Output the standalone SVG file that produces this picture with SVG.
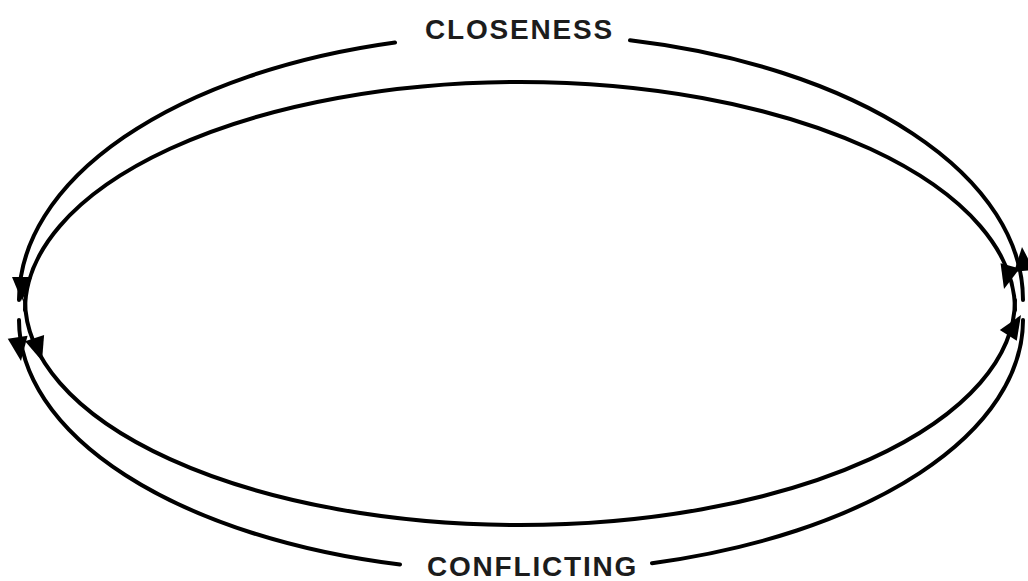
<svg xmlns="http://www.w3.org/2000/svg" width="1028" height="581" viewBox="0 0 1028 581">
  <style>
    .loop { fill: none; stroke: #000; stroke-width: 4; stroke-linecap: round; }
    .head { fill: #000; }
    .label { font-family: "Liberation Sans", Arial, sans-serif; font-weight: bold; font-size: 28px; letter-spacing: 1.8px; fill: #1c1c1c; }
  </style>
  <defs>
    <!-- arrowhead, tip at origin, pointing along +x -->
    <path id="tip" class="head" d="M0,0 L-24,-10 L-24,10 Z"/>
  </defs>

  <rect width="1028" height="581" fill="#fff"/>

  <g id="connectors">
    <!-- outer upper arc, broken for the top label -->
    <path class="loop" d="M1023,300 A502,266 0 0 0 630,40.3 M395,42.5 A502,266 0 0 0 19,300"/>
    <!-- inner upper arc -->
    <path class="loop" d="M1015,310 A495,228 0 0 0 25,310"/>
    <!-- outer lower arc, broken for the bottom label -->
    <path class="loop" d="M19,320 A502,252 0 0 0 400,564.6 M652,563.2 A502,252 0 0 0 1023,320"/>
    <!-- inner lower arc -->
    <path class="loop" d="M25,300 A495,225 0 0 0 1015,300"/>

    <!-- arrowheads on the left -->
    <use href="#tip" transform="translate(22,301) rotate(90)"/>
    <use href="#tip" transform="translate(21,361) rotate(82)"/>
    <use href="#tip" transform="translate(42,361) rotate(72)"/>
    <!-- arrowheads on the right -->
    <use href="#tip" transform="translate(1022,247) rotate(-95)"/>
    <use href="#tip" transform="translate(1004,289) rotate(105)"/>
    <use href="#tip" transform="translate(1021,315) rotate(-58)"/>
  </g>

  <g id="closeness">
    <text class="label" x="425" y="38.5">CLOSENESS</text>
  </g>
  <g id="conflicting">
    <text class="label" x="427" y="576">CONFLICTING</text>
  </g>
</svg>
